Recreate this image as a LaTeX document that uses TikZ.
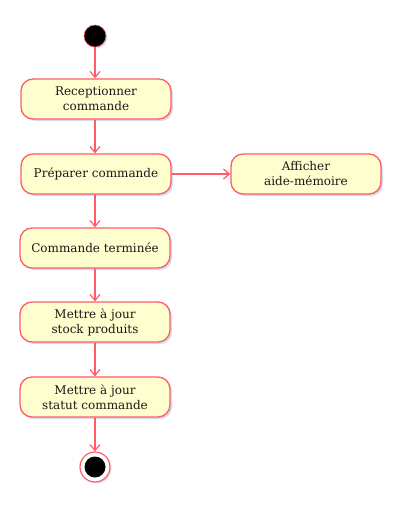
\documentclass[tikz,border=0pt]{standalone}
\usepackage{fontspec}
\setmainfont{DejaVu Serif}
\usetikzlibrary{arrows.meta,shadows}
\definecolor{edge}{HTML}{FF5C66}
\definecolor{boxfill}{HTML}{FEFECE}
\definecolor{shade}{HTML}{B0B8D8}
\tikzset{
  act/.style={draw=edge, line width=1.3pt, fill=boxfill, rounded corners=12pt,
    minimum width=150pt, minimum height=40pt, align=center, inner sep=2pt,
    font=\fontsize{12}{15}\selectfont, text=black!90,
    drop shadow={shadow xshift=2pt, shadow yshift=-2pt, opacity=0.5, fill=shade}},
  flow/.style={draw=edge, line width=1.2pt, -{Straight Barb[length=6pt,width=10pt]}},
}
\begin{document}
\begin{tikzpicture}[x=1pt,y=1pt]
\useasboundingbox (0,0) rectangle (412,-514);
\node[circle, fill=black, draw=edge, line width=0.6pt, minimum size=22pt, inner sep=0pt,
  drop shadow={shadow xshift=1.5pt, shadow yshift=-1.5pt, opacity=0.4, fill=shade}] (start) at (95,-36) {};
\node[act] (recv) at (96,-99) {Receptionner\\commande};
\node[act] (prep) at (96,-174) {Préparer commande};
\node[act] (aide) at (306,-174) {Afficher\\aide-mémoire};
\node[act] (done) at (95,-248) {Commande terminée};
\node[act] (stock) at (95,-322) {Mettre à jour\\stock produits};
\node[act] (stat) at (95,-397) {Mettre à jour\\statut commande};
\node[circle, draw=edge, line width=1.2pt, fill=white, minimum size=30pt, inner sep=0pt,
  drop shadow={shadow xshift=1.5pt, shadow yshift=-1.5pt, opacity=0.4, fill=shade}] (stop) at (95,-467) {};
\node[circle, fill=black, minimum size=21pt, inner sep=0pt] (stopin) at (stop.center) {};
\draw[flow] (start) -- (start |- recv.north);
\draw[flow] (recv.south -| start) -- (prep.north -| start);
\draw[flow] (prep) -- (aide);
\draw[flow] (prep.south -| start) -- (done.north -| start);
\draw[flow] (done) -- (stock);
\draw[flow] (stock) -- (stat);
\draw[flow] (stat) -- (stop);
\end{tikzpicture}
\end{document}
